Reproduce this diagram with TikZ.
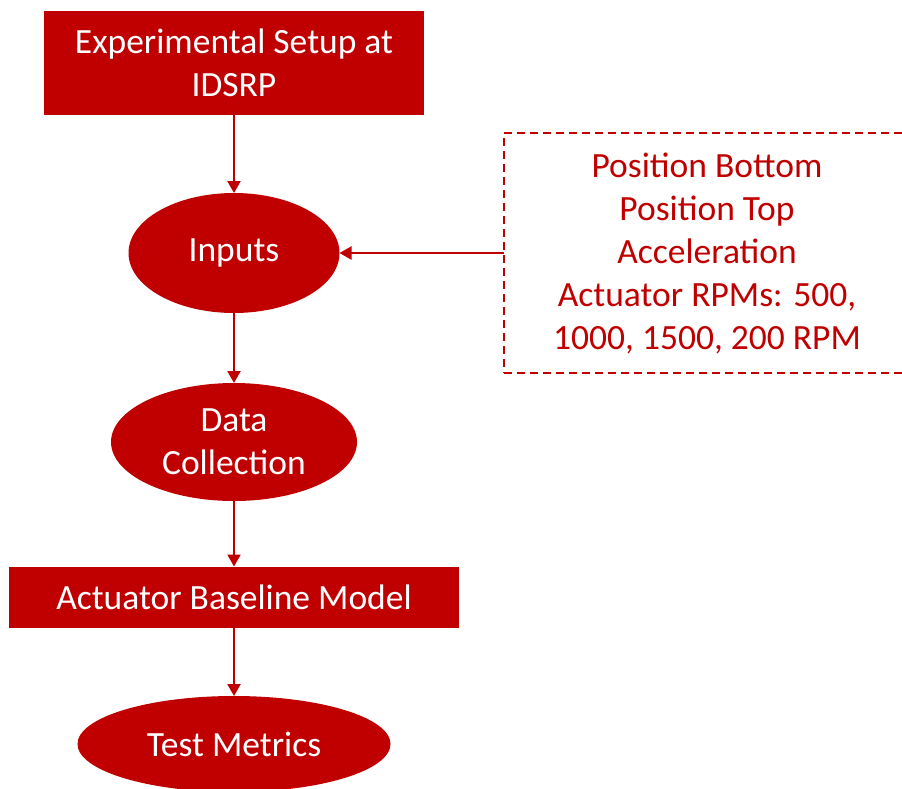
\documentclass[tikz,border=0pt]{standalone}
\usepackage{fontspec}
\setmainfont{Carlito}
\usetikzlibrary{shapes.geometric,arrows.meta}
\definecolor{darkred}{HTML}{C00000}

\begin{document}
\begin{tikzpicture}[x=1pt,y=-1pt,font=\fontsize{35.5}{43}\selectfont,
	redbox/.style={rectangle,fill=darkred,text=white,inner sep=0pt,outer sep=0pt,align=center},
	redoval/.style={ellipse,fill=darkred,text=white,inner sep=0pt,outer sep=0pt,align=center},
	flow/.style={draw=darkred,line width=2pt,-{Triangle[width=13pt,length=12pt]}}]
	\useasboundingbox (0,0) rectangle (902,788);
	
	% draw boxes and ovals
	\node[redbox,minimum width=380pt,minimum height=104pt] (setup) at (234,63) {Experimental Setup at\\IDSRP};
	\node[redoval,minimum width=211pt,minimum height=120pt] (inputs) at (234,253) {Inputs};
	\node[redoval,minimum width=246pt,minimum height=118pt] (collect) at (234,442) {Data\\Collection};
	\node[redbox,minimum width=450pt,minimum height=61pt] (model) at (234,597) {Actuator Baseline Model};
	\node[redoval,minimum width=313pt,minimum height=96pt] (metrics) at (234,744) {Test Metrics};
	
	% draw input list (frame runs past the right edge)
	\node[draw=darkred,line width=2pt,dash pattern=on 8pt off 5pt,inner sep=0pt,outer sep=0pt,
		minimum width=430pt,minimum height=240pt,anchor=west] (frame) at (504,253) {};
	\node[text=darkred,align=center,inner sep=0pt] (params) at (707,253)
		{Position Bottom\\Position Top\\Acceleration\\Actuator RPMs: 500,\\1000, 1500, 200 RPM};
	
	% draw arrows
	\draw[flow] (setup) -- (inputs);
	\draw[flow] (frame) -- (inputs);
	\draw[flow] (inputs) -- (collect);
	\draw[flow] (collect) -- (model);
	\draw[flow] (model) -- (metrics);
\end{tikzpicture}
\end{document}
